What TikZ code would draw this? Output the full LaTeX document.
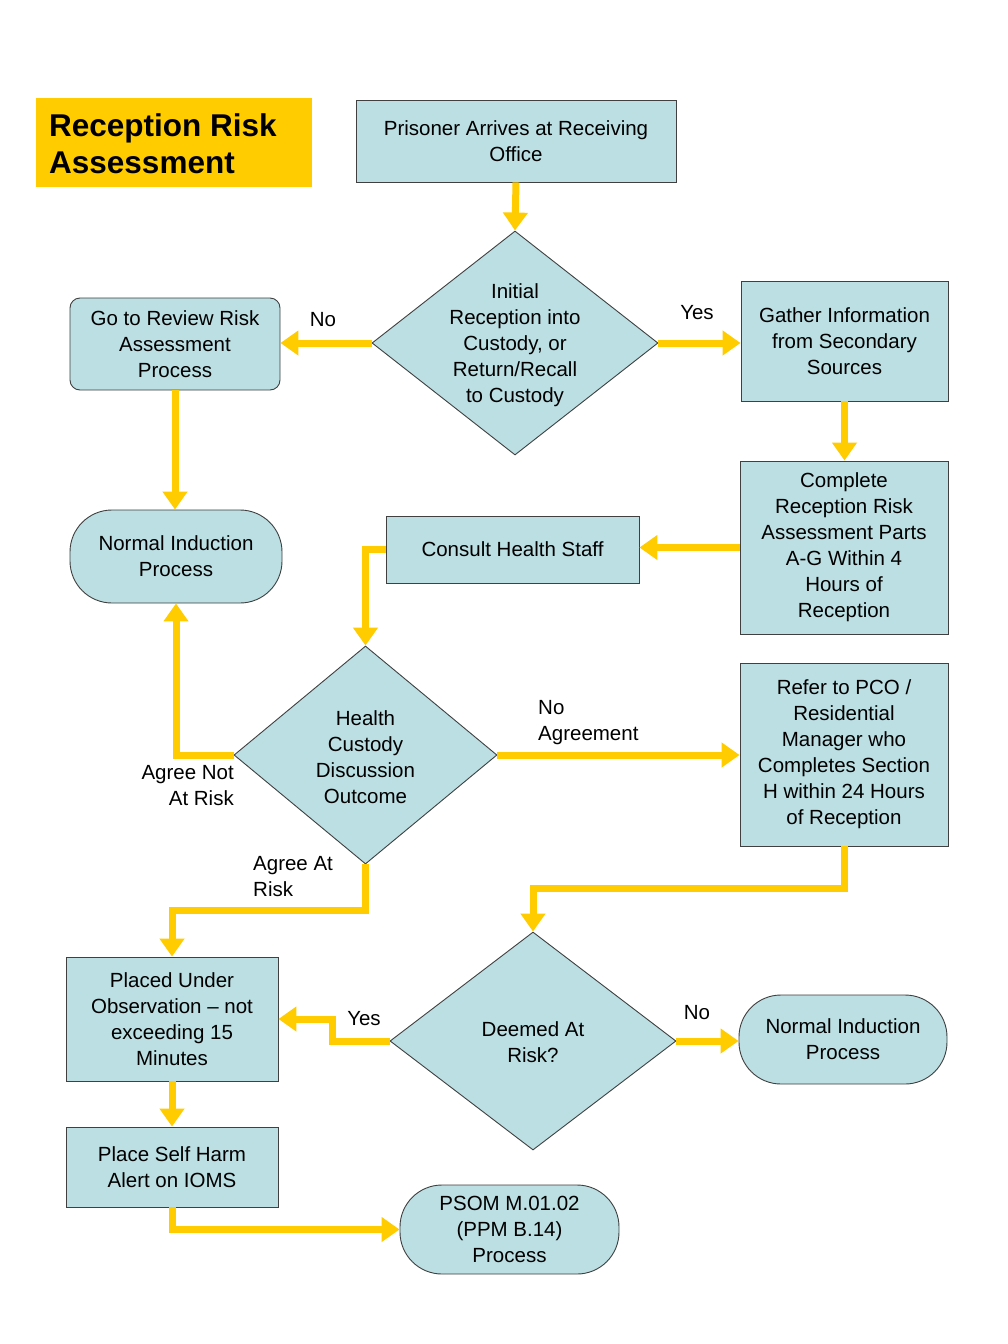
\documentclass[tikz,border=0pt]{standalone}
\usepackage{fontspec}
\setmainfont{Liberation Sans}
\usetikzlibrary{shapes.geometric,arrows.meta}
\definecolor{boxblue}{HTML}{BBDFE3}
\definecolor{arryel}{HTML}{FFCC00}
\definecolor{edgegray}{HTML}{404040}
\begin{document}
\begin{tikzpicture}[x=1pt,y=-1pt,
  every node/.style={font=\fontsize{20.5}{26}\selectfont},
  box/.style={draw=edgegray,line width=0.9pt,fill=boxblue,align=center,inner sep=2pt},
  rbox/.style={box,rounded corners=10pt},
  stad/.style={box,rounded corners=42pt},
  dia/.style={box,diamond,inner sep=0pt},
  dtext/.style={align=center,inner sep=0pt},
  arr/.style={draw=arryel,line width=7pt,-{Triangle[width=24pt,length=18pt]}},
  lbl/.style={inner sep=0pt}]
\useasboundingbox (0,0) rectangle (1008,1344);
\fill[white] (0,0) rectangle (1008,1344);

\node[fill=arryel,minimum width=276pt,minimum height=89pt,inner sep=0pt] (titlebg) at (174,142.5) {};
\node[anchor=west,align=left,font=\bfseries\fontsize{31.5}{37}\selectfont,inner sep=0pt] (title) at (49,144) {Reception Risk\\Assessment};

\node[box,minimum width=320pt,minimum height=82pt] (arrive) at (516,141) {Prisoner Arrives at Receiving\\Office};
\node[dia,minimum width=286pt,minimum height=224pt] (d1) at (515,343) {};
\node[dtext] (d1t) at (515,345) {Initial\\Reception into\\Custody, or\\Return/Recall\\to Custody};
\node[rbox,minimum width=210pt,minimum height=92pt] (review) at (175,344) {Go to Review Risk\\Assessment\\Process};
\node[box,minimum width=207pt,minimum height=120pt] (gather) at (844.5,341) {Gather Information\\from Secondary\\Sources};
\node[stad,minimum width=212pt,minimum height=93pt] (ni1) at (176,556.5) {Normal Induction\\Process};
\node[box,minimum width=208pt,minimum height=173pt] (complete) at (844,547.5) {Complete\\Reception Risk\\Assessment Parts\\A-G Within 4\\Hours of\\Reception};
\node[box,minimum width=253pt,minimum height=67pt] (consult) at (512.5,549.5) {Consult Health Staff};
\node[dia,minimum width=263pt,minimum height=218pt] (d2) at (365.5,755) {};
\node[dtext] (d2t) at (365.5,757) {Health\\Custody\\Discussion\\Outcome};
\node[box,minimum width=208pt,minimum height=183pt] (refer) at (844,754.5) {Refer to PCO /\\Residential\\Manager who\\Completes Section\\H within 24 Hours\\of Reception};
\node[dia,minimum width=286pt,minimum height=218pt] (d3) at (533,1041) {};
\node[dtext] (d3t) at (533,1042) {Deemed At\\Risk?};
\node[stad,minimum width=208pt,minimum height=89pt] (ni2) at (843,1039.5) {Normal Induction\\Process};
\node[box,minimum width=212pt,minimum height=124pt] (placed) at (172,1019) {Placed Under\\Observation -- not\\exceeding 15\\Minutes};
\node[box,minimum width=212pt,minimum height=80pt] (alert) at (172,1167) {Place Self Harm\\Alert on IOMS};
\node[stad,minimum width=219pt,minimum height=89pt] (psom) at (509.5,1229.5) {PSOM M.01.02\\(PPM B.14)\\Process};

\draw[arr] (arrive.south) -- (d1.north);
\draw[arr] (d1.west) -- (d1.west -| review.east);
\draw[arr] (d1.east) -- (d1.east -| gather.west);
\draw[arr] (review.south) -- (ni1.north -| review.south);
\draw[arr] (gather.south) -- (complete.north -| gather.south);
\draw[arr] (complete.west) -- (complete.west -| consult.east);
\draw[arr] (consult.west) -| (d2.north);
\draw[arr] (d2.west) -| (ni1.south);
\draw[arr] (d2.east) -- (d2.east -| refer.west);
\draw[arr] (d2.south) -- ++(0,46) -| (placed.north);
\draw[arr] (refer.south) -- ++(0,42) -| (d3.north);
\draw[arr] (d3.west) -- ++(-57,0) |- (placed.east);
\draw[arr] (d3.east) -- (d3.east -| ni2.west);
\draw[arr] (placed.south) -- (alert.north);
\draw[arr] (alert.south) |- (psom.west);

\node[lbl] (lno1) at (323,320) {No};
\node[lbl] (lyes1) at (697,313) {Yes};
\node[lbl,anchor=north east,align=right] (lagn) at (234,765) {Agree Not\\At Risk};
\node[lbl,anchor=north west,align=left] (lnoag) at (538,700) {No\\Agreement};
\node[lbl,anchor=north west,align=left] (laar) at (253,856) {Agree At\\Risk};
\node[lbl] (lyes2) at (364,1019) {Yes};
\node[lbl] (lno2) at (697,1013) {No};
\end{tikzpicture}
\end{document}
